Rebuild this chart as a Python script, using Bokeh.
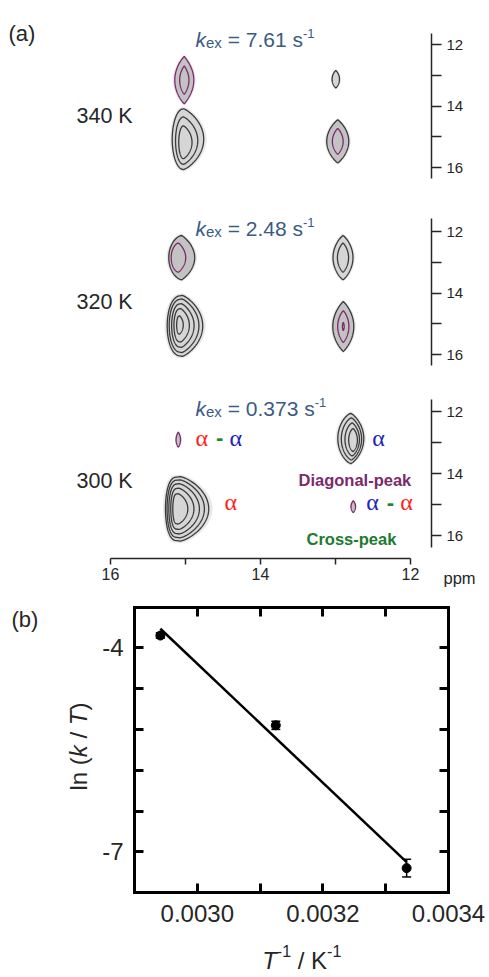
import numpy as np
from bokeh.plotting import figure
from bokeh.models import (Range1d, FixedTicker, Label, LinearAxis, Whisker, TeeHead,
                          ColumnDataSource, PrintfTickFormatter, CustomJSTickFormatter)
from bokeh.embed import file_html
from bokeh.resources import INLINE

# ------------------------------------------------------------------ data
temperatures = [340, 320, 300]                 # K
kex_values = ["7.61", "2.48", "0.373"]          # s^-1

# peak order in every spectrum: upper-left, lower-left, upper-right, lower-right
peak_kind = ["cross", "diag", "diag", "cross"]
peak_f2 = [[15.016, 15.027, 12.996, 12.970],
           [15.050, 15.040, 12.900, 12.896],
           [15.096, 15.067, 12.796, 12.763]]
peak_f1 = [[13.16, 15.08, 13.13, 15.15],
           [12.85, 15.07, 12.85, 15.09],
           [12.91, 15.14, 12.87, 15.07]]
peak_half_left = [[0.127, 0.150, 0.049, 0.147],
                  [0.173, 0.204, 0.133, 0.140],
                  [0.030, 0.200, 0.173, 0.030]]
peak_half_right = [[0.127, 0.270, 0.049, 0.147],
                   [0.173, 0.270, 0.133, 0.140],
                   [0.030, 0.377, 0.173, 0.030]]
peak_half_height = [[0.77, 0.99, 0.28, 0.70],
                    [0.72, 0.99, 0.72, 0.81],
                    [0.24, 1.04, 0.81, 0.19]]
contour_levels = [[[1, 0.6], [1, 0.78, 0.54], [1], [1, 0.6]],
                  [[1, 0.66], [1, 0.88, 0.72, 0.55, 0.3], [1, 0.66], [1, 0.64, 0.17]],
                  [[1], [1, 0.9, 0.78, 0.64, 0.47], [1, 0.84, 0.66, 0.46], [1]]]
inner_shift_f2 = [[0, 0, 0, 0], [0.044, 0.04, 0, 0], [0, 0.033, -0.03, 0]]
inner_shift_f1 = [[0, 0.1, 0, 0], [0, -0.03, 0, 0], [0, 0, 0.05, 0]]

ppm_ticks = [12, 14, 16]
ppm_minor = [13, 15]

# panel (b)
inv_T = [1.0 / t for t in temperatures]
ln_kT = [-3.82, -5.14, -7.24]
ln_kT_err = [0.04, 0.06, 0.13]
b_xticks = [0.0030, 0.0032, 0.0034]
b_xminor = [0.0031, 0.0033]
b_yticks = [-7, -4]
b_yminor = [-6.4, -5.8, -5.2, -4.6]

# ------------------------------------------------------------------ styles
FONT = "Liberation Sans"
GREEK = "Liberation Serif"
GRAY_LINE = "#3a3a3a"
PURPLE = "#7b2a6d"
FILL = {"cross": "#c3c3c3", "diag": "#d6d6d6"}
HALO = "#e2e2e2"
KEX_COLOR = "#3b5b84"
TXT = "#262626"
RED, BLUE, GREEN = "#ff1f1f", "#2424b4", "#1d8a24"
line_codes = [["pp", "ggg", "g", "gp"], ["gp", "ggggg", "gg", "gpp"], ["p", "ggggg", "gggg", "p"]]
shape_exp = [[(0.9, 1.0), (0.5, 0.8), (0.8, 0.8), (0.9, 0.9)],
             [(0.6, 0.9), (0.4, 0.8), (0.85, 0.85), (0.9, 0.9)],
             [(0.9, 0.9), (0.3, 0.75), (0.7, 0.8), (0.9, 0.9)]]

W_REG = {' ': 0.278, '(': 0.333, ')': 0.333, '-': 0.333, '.': 0.278, '/': 0.278, '=': 0.584,
         'K': 0.667, 'T': 0.611, 'a': 0.556, 'e': 0.556, 'k': 0.5, 'l': 0.222, 'n': 0.556,
         's': 0.5, 'x': 0.5, 'm': 0.833, 'p': 0.556, 'α': 0.6}
for d in "0123456789":
    W_REG[d] = 0.556
W_BOLD = {' ': 0.278, '-': 0.333, 'α': 0.6}


def adv(s, size, bold=False):
    tbl = W_BOLD if bold else W_REG
    return sum(tbl.get(c, W_REG.get(c, 0.556)) for c in s) * size


def lens(cx, cy, wl, wr, h, pl, pr, n=90):
    u = np.linspace(-1, 1, n)
    prof = np.clip(1 - u ** 2, 0, None)
    ys = cy + h * u
    xr = cx - wr * prof ** pr
    xl = cx + wl * prof ** pl
    return list(np.concatenate([xr, xl[::-1]])), list(np.concatenate([ys, ys[::-1]]))


# ------------------------------------------------------------------ page geometry (px)
W_PX, H_PX = 489, 977
C_LEFT, C_RIGHT, C_TOP, C_BOTTOM = 0.0, float(W_PX), 0.0, float(H_PX)
X16_PX, PX_PER_PPM = 110.0, 75.0
y12_px = [44.0, 231.0, 411.0]
ky = [30.75, 30.75, 31.0]
axis_px = [(33.0, 178.0), (218.0, 365.0), (399.0, 547.0)]
AXIS_X_PX = 431.0
XAXIS_Y_PX = 558.0
B_L, B_R, B_T, B_B = 134.0, 448.0, 607.0, 892.0


def fx(px):
    return 16 - (px - X16_PX) / PX_PER_PPM


def make_fy(i):
    return lambda py: 12 + (py - y12_px[i]) / ky[i]


fys = [make_fy(i) for i in range(3)]


def bx(px):
    return 0.0029 + (px - B_L) / 628000.0


def by(py):
    return -4 - (py - 647.3) / 68.0


ynames = ["default", "ppm320", "ppm300"]

p = figure(width=W_PX, height=H_PX,
           x_range=Range1d(fx(C_LEFT), fx(C_RIGHT)),
           y_range=Range1d(fys[0](C_BOTTOM), fys[0](C_TOP)),
           x_axis_location=None, y_axis_location=None,
           min_border=0, output_backend="svg", toolbar_location=None)
p.extra_y_ranges = {"ppm320": Range1d(fys[1](C_BOTTOM), fys[1](C_TOP)),
                    "ppm300": Range1d(fys[2](C_BOTTOM), fys[2](C_TOP)),
                    "lnkT": Range1d(by(C_BOTTOM), by(C_TOP))}
p.extra_x_ranges = {"invT": Range1d(bx(C_LEFT), bx(C_RIGHT))}
p.outline_line_color = None
p.grid.visible = False
p.background_fill_color = "white"
p.border_fill_color = "white"


def rich(x, y, pieces, angle=0.0, xr="default", yr="default"):
    off = 0.0
    for piece in pieces:
        txt, size, style, color, dy = piece[:5]
        font = piece[5] if len(piece) > 5 else FONT
        bold = "bold" in style
        lead = len(txt) - len(txt.lstrip(" "))
        shown = txt.strip(" ")
        o = off + adv(" " * lead, size, bold)
        if angle == 0:
            xo, yo = o, dy
        else:
            xo, yo = -dy, o
        p.add_layout(Label(x=x, y=y, text=shown, x_offset=xo, y_offset=yo, angle=angle,
                           x_range_name=xr, y_range_name=yr,
                           text_font=font, text_font_size=f"{size}px", text_font_style=style,
                           text_color=color, text_align="left", text_baseline="alphabetic"))
        off += adv(txt, size, bold)


# ------------------------------------------------------------------ panel (a)
for i in range(3):
    fy = fys[i]
    yn = ynames[i]
    ya = LinearAxis(y_range_name=yn, fixed_location=fx(AXIS_X_PX),
                    ticker=FixedTicker(ticks=ppm_ticks, minor_ticks=ppm_minor),
                    bounds=(fy(axis_px[i][0]), fy(axis_px[i][1])))
    ya.major_tick_in, ya.major_tick_out = 0, 10
    ya.minor_tick_in, ya.minor_tick_out = 0, 10
    ya.axis_line_width = ya.major_tick_line_width = ya.minor_tick_line_width = 1.5
    ya.axis_line_color = ya.major_tick_line_color = ya.minor_tick_line_color = TXT
    ya.major_label_text_font = FONT
    ya.major_label_text_font_size = "15px"
    ya.major_label_text_color = TXT
    ya.major_label_standoff = 5
    p.add_layout(ya, "right")

    for j in range(4):
        cx, cy = peak_f2[i][j], peak_f1[i][j]
        wl, wr, hh = peak_half_left[i][j], peak_half_right[i][j], peak_half_height[i][j]
        lv = contour_levels[i][j]
        smin = min(lv)
        pl, pr = shape_exp[i][j]
        hx, hy = lens(cx, cy, wl * 1.1 + 0.012, wr * 1.1 + 0.012, hh * 1.04 + 0.03, pl, pr)
        p.patch(hx, hy, fill_color=HALO, fill_alpha=0.8, line_color=None, y_range_name=yn)
        for k, s in enumerate(lv):
            t = 0.0 if smin >= 1 else (1 - s) / (1 - smin)
            sx = s ** 1.4
            xs, ys = lens(cx + inner_shift_f2[i][j] * t, cy + inner_shift_f1[i][j] * t,
                          wl * sx, wr * sx, hh * s, pl, pr)
            col = PURPLE if line_codes[i][j][k] == "p" else GRAY_LINE
            fill = FILL[peak_kind[j]] if k == 0 else None
            p.patch(xs, ys, fill_color=fill, line_color=col, line_width=1.3, y_range_name=yn)

    rich(fx(195), fy([39.3, 228.3, 408.3][i]),
         [("k", 21, "italic", KEX_COLOR, 0),
          ("ex", 15, "normal", KEX_COLOR, -3),
          (" = " + kex_values[i] + " s", 21, "normal", KEX_COLOR, 0),
          ("-1", 13, "normal", KEX_COLOR, 6)], yr=yn)
    rich(fx(76), fy([115, 301.7, 480][i]),
         [(f"{temperatures[i]} K", 21.5, "normal", TXT, 0)], yr=yn)

fy3 = fys[2]
xa = LinearAxis(y_range_name="ppm300", fixed_location=fy3(XAXIS_Y_PX),
                ticker=FixedTicker(ticks=ppm_ticks, minor_ticks=ppm_minor), bounds=(12, 16))
xa.major_tick_in, xa.major_tick_out = 0, 6
xa.minor_tick_in, xa.minor_tick_out = 0, 6
xa.axis_line_width = xa.major_tick_line_width = xa.minor_tick_line_width = 1.5
xa.axis_line_color = xa.major_tick_line_color = xa.minor_tick_line_color = TXT
xa.major_label_text_font = FONT
xa.major_label_text_font_size = "16px"
xa.major_label_text_color = TXT
xa.major_label_standoff = 3
p.add_layout(xa, "below")

rich(fx(8), fys[0](33), [("(a)", 22, "normal", TXT, 0)])
rich(fx(195), fy3(437), [("α", 24, "normal", RED, 0, GREEK), (" - ", 22, "bold", GREEN, 0),
                         ("α", 24, "normal", BLUE, 0, GREEK)], yr="ppm300")
rich(fx(371.7), fy3(437), [("α", 24, "normal", BLUE, 0, GREEK)], yr="ppm300")
rich(fx(298), fy3(479), [("Diagonal-peak", 16.5, "bold", PURPLE, 0)], yr="ppm300")
rich(fx(224), fy3(501.5), [("α", 24, "normal", RED, 0, GREEK)], yr="ppm300")
rich(fx(365.7), fy3(501.5), [("α", 24, "normal", BLUE, 0, GREEK), (" - ", 22, "bold", GREEN, 0),
                             ("α", 24, "normal", RED, 0, GREEK)], yr="ppm300")
rich(fx(306), fy3(538.3), [("Cross-peak", 16.5, "bold", "#1e7a30", 0)], yr="ppm300")
rich(fx(443), fy3(577.3), [("ppm", 16.5, "normal", TXT, 0)], yr="ppm300")

# ------------------------------------------------------------------ panel (b)
blank = CustomJSTickFormatter(code="return ''")


def b_axis(side, loc, ticks, minor, labels, fmt=None, bounds=None, size="24px", standoff=10):
    ax = LinearAxis(x_range_name="invT", y_range_name="lnkT", fixed_location=loc,
                    ticker=FixedTicker(ticks=ticks, minor_ticks=minor),
                    formatter=(fmt if labels else blank), bounds=bounds)
    ax.axis_line_width = 3
    ax.axis_line_color = "black"
    ax.axis_line_cap = "square"
    ax.major_tick_in, ax.major_tick_out = 9, 0
    ax.minor_tick_in, ax.minor_tick_out = 9, 0
    ax.major_tick_line_width = ax.minor_tick_line_width = 3
    ax.major_tick_line_color = ax.minor_tick_line_color = "black"
    ax.major_label_text_font = FONT
    ax.major_label_text_font_size = size if labels else "1px"
    ax.major_label_text_color = TXT
    ax.major_label_standoff = standoff
    p.add_layout(ax, side)


xb = (bx(B_L), bx(B_R))
ybnd = (by(B_B), by(B_T))
b_axis("below", by(B_B), b_xticks, b_xminor, True, PrintfTickFormatter(format="%.4f"),
       xb, "24px", 12)
b_axis("above", by(B_T), b_xticks, b_xminor, False, bounds=xb)
b_axis("left", bx(B_L), b_yticks, b_yminor, True, PrintfTickFormatter(format="%d"),
       ybnd, "24px", 11)
b_axis("right", bx(B_R), b_yticks, b_yminor, False, bounds=ybnd)

src = ColumnDataSource(dict(x=inv_T, y=ln_kT,
                            upper=[v + e for v, e in zip(ln_kT, ln_kT_err)],
                            lower=[v - e for v, e in zip(ln_kT, ln_kT_err)]))
slope, intercept = np.polyfit(inv_T, ln_kT, 1)
xfit = np.array([min(inv_T), max(inv_T)])
p.line(xfit, slope * xfit + intercept, line_width=2.5, line_color="black",
       x_range_name="invT", y_range_name="lnkT")
p.add_layout(Whisker(source=src, base="x", upper="upper", lower="lower",
                     x_range_name="invT", y_range_name="lnkT",
                     line_width=1.5, line_color="black",
                     upper_head=TeeHead(size=9, line_width=1.5, line_color="black"),
                     lower_head=TeeHead(size=9, line_width=1.5, line_color="black")))
p.scatter("x", "y", source=src, size=9, color="black", x_range_name="invT", y_range_name="lnkT")

rich(bx(11), by(619), [("(b)", 22, "normal", TXT, 0)], xr="invT", yr="lnkT")
rich(bx(78), by(790), [("ln (", 24, "normal", TXT, 0), ("k", 24, "italic", TXT, 0),
                       (" / ", 24, "normal", TXT, 0), ("T", 24, "italic", TXT, 0),
                       (")", 24, "normal", TXT, 0)], angle=np.pi / 2, xr="invT", yr="lnkT")
rich(bx(261.7), by(960), [("T", 24, "italic", TXT, 0), ("-1", 16, "normal", TXT, 10),
                          (" / K", 24, "normal", TXT, 0), ("-1", 16, "normal", TXT, 10)],
     xr="invT", yr="lnkT")

open("out.html", "w").write(file_html(p, INLINE))
